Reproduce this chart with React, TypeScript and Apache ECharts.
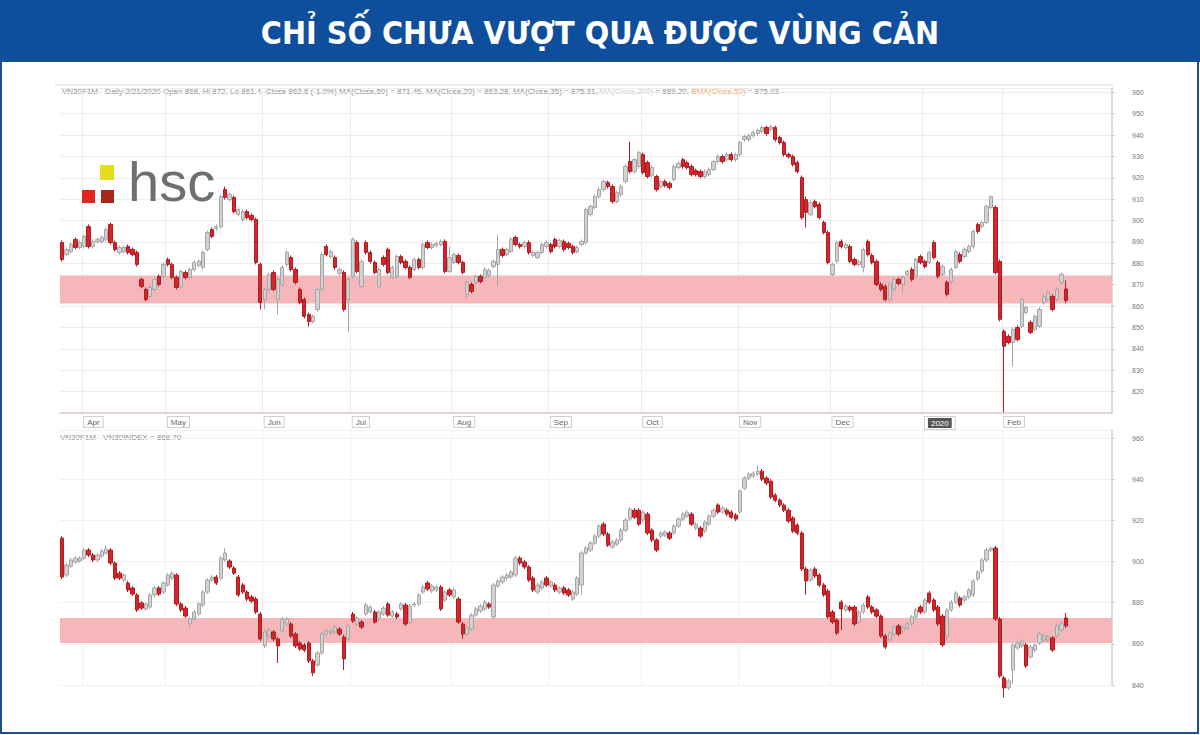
import React, { useEffect, useRef } from "react";
import * as echarts from "echarts";

// ---------- DATA ----------
const titleText = "CHỈ SỐ CHƯA VƯỢT QUA ĐƯỢC VÙNG CẢN";
const monthStarts = [5, 24, 46, 66, 89, 111, 132, 154, 175, 196, 214];
const monthLabels = ["Apr", "May", "Jun", "Jul", "Aug", "Sep", "Oct", "Nov", "Dec", "2020", "Feb"];
const slotCount = 239;

// VN30F1M daily candles: [open, close, low, high]
const futuresOHLC = [
  [889.7,881.8,880.9,890.7],[884.1,886.5,883.2,887.4],[885.5,888.8,884.6,889.7],[891.2,887.4,886.5,892.1],
  [887.4,889.7,886.5,890.7],[887.9,892.6,886.9,893.5],[897.2,887.9,886.9,898.2],[887.9,890.2,886.9,891.2],
  [890.2,891.2,889.3,892.1],[890.2,892.1,889.3,893.0],[891.2,895.8,890.2,896.8],[898.2,889.7,888.8,899.1],
  [889.7,886.5,885.5,890.7],[885.1,887.4,884.1,888.3],[885.5,887.4,884.6,888.3],[887.9,885.1,884.1,888.8],
  [886.5,884.1,883.2,887.4],[885.1,879.5,878.5,886.0],[872.5,869.2,868.3,873.4],[867.8,863.1,862.2,868.7],
  [864.5,868.7,863.6,869.7],[867.8,872.5,866.9,873.4],[873.9,870.1,869.2,874.8],[873.9,879.5,872.9,880.4],
  [881.8,879.5,878.5,882.7],[879.5,873.4,872.5,880.4],[873.4,868.7,867.8,874.3],[869.2,876.2,868.3,877.1],
  [875.7,873.4,872.5,876.7],[873.4,877.1,872.5,878.1],[877.1,880.4,876.2,881.3],[879.0,880.9,878.1,881.8],
  [878.1,885.1,877.1,886.0],[886.5,894.4,885.5,895.3],[895.8,892.6,891.7,896.8],[896.3,897.2,895.3,898.2],
  [897.2,911.2,896.3,912.2],[914.5,910.8,909.8,915.9],[909.8,912.2,908.9,913.1],[910.8,904.2,903.3,911.7],
  [902.8,905.2,901.9,906.1],[900.5,904.2,899.6,905.2],[904.2,901.4,900.5,905.2],[902.4,900.5,899.6,903.3],
  [900.5,880.4,879.5,901.4],[879.5,861.7,858.4,880.4],[863.1,867.8,858.4,868.7],[867.8,874.8,866.9,875.7],
  [875.7,867.8,866.9,876.7],[863.1,872.5,856.1,873.4],[870.1,878.1,869.2,879.0],[879.5,885.1,878.5,886.0],
  [882.7,877.1,876.2,883.7],[877.1,871.1,870.1,878.1],[867.8,861.7,860.8,868.7],[863.1,855.2,854.2,864.0],
  [856.1,852.8,850.5,857.0],[852.8,855.2,851.9,856.1],[858.4,867.8,857.5,868.7],[867.8,884.1,866.9,885.1],
  [887.9,884.1,883.2,888.8],[883.2,885.5,882.3,886.5],[882.7,878.1,877.1,883.7],[875.3,877.1,874.3,878.1],
  [875.7,858.4,857.5,876.7],[863.1,872.5,847.7,873.4],[873.9,891.2,872.9,892.1],[889.7,876.2,875.3,890.7],
  [869.2,880.9,868.3,881.8],[889.7,885.1,884.1,890.7],[885.1,880.9,879.9,886.0],[880.4,875.7,874.8,881.3],
  [869.2,877.1,868.3,878.1],[882.7,879.5,878.5,883.7],[886.5,875.7,874.8,887.4],[873.4,878.1,872.5,879.0],
  [873.9,883.2,872.9,884.1],[883.2,880.4,879.5,884.1],[880.9,878.1,877.1,881.8],[878.1,873.4,872.5,879.0],
  [877.1,881.8,876.2,882.7],[881.8,878.1,877.1,882.7],[878.1,888.8,877.1,889.7],[889.7,887.4,886.5,890.7],
  [887.4,888.8,886.5,889.7],[888.3,889.3,887.4,890.2],[888.8,890.2,887.9,891.2],[890.2,876.2,875.3,891.2],
  [876.2,882.7,875.3,887.9],[880.4,884.1,879.5,885.1],[883.7,880.4,879.5,884.6],[880.4,875.7,874.8,881.3],
  [865.5,871.1,863.6,872.0],[870.1,866.9,866.0,871.1],[871.1,873.9,870.1,874.8],[873.9,871.5,870.6,874.8],
  [873.4,877.1,872.5,878.1],[874.3,876.7,873.4,877.6],[878.5,880.9,877.6,881.8],[879.5,886.5,869.2,893.5],
  [886.5,883.7,882.7,887.4],[884.1,886.5,883.2,887.4],[885.5,891.2,884.6,892.1],[892.1,888.8,887.9,893.0],
  [888.8,887.9,886.9,889.7],[887.9,889.7,886.9,890.7],[889.7,885.1,884.1,890.7],[883.7,885.1,882.7,886.0],
  [882.7,885.1,881.8,886.0],[885.1,888.8,884.1,889.7],[887.9,889.7,886.9,890.7],[888.8,885.5,884.6,889.7],
  [891.2,887.9,886.9,892.1],[887.9,890.7,886.9,891.7],[890.2,886.5,885.5,891.2],[889.3,887.4,886.5,890.2],
  [887.9,885.1,884.1,888.8],[885.5,887.4,884.6,888.3],[888.8,890.2,887.9,891.2],[889.7,905.2,888.8,906.1],
  [902.8,906.6,901.9,907.5],[906.1,911.2,905.2,912.2],[911.2,914.5,910.3,915.5],[914.5,918.3,913.6,919.2],
  [917.8,915.9,915.0,918.7],[915.9,908.9,908.0,916.9],[908.9,913.1,908.0,914.0],[912.2,915.9,911.2,916.9],
  [918.3,925.3,917.3,926.2],[927.6,922.9,922.0,936.9],[922.9,928.5,922.0,929.4],[925.3,931.8,924.3,932.7],
  [930.9,922.5,921.5,931.8],[927.1,920.6,919.7,928.0],[921.1,924.8,920.1,925.7],[920.6,914.5,913.6,921.5],
  [915.9,918.3,915.0,919.2],[918.3,916.4,915.5,919.2],[917.3,915.5,914.5,918.3],[919.2,925.3,918.3,926.2],
  [924.8,926.7,923.9,927.6],[928.5,925.3,924.3,929.4],[927.1,924.8,923.9,928.0],[925.3,921.5,920.6,926.2],
  [923.4,921.5,920.6,924.3],[922.9,920.6,919.7,923.9],[920.6,922.9,919.7,923.9],[921.5,923.9,920.6,924.8],
  [923.9,927.6,923.0,928.5],[927.6,929.9,926.7,930.9],[929.9,927.6,926.7,930.9],[928.5,930.9,927.6,931.8],
  [930.9,928.5,927.6,931.8],[928.5,930.9,927.6,931.8],[930.9,936.5,929.9,937.4],[937.9,939.3,936.9,940.2],
  [937.9,939.7,936.9,940.7],[939.7,941.2,938.8,942.1],[940.7,942.1,939.7,943.0],[941.6,943.5,940.7,944.4],
  [943.5,940.7,939.7,944.4],[942.6,943.9,941.6,944.9],[943.5,937.9,936.9,944.4],[938.8,936.5,935.5,939.7],
  [936.5,930.9,929.9,937.4],[930.9,929.9,929.0,931.8],[929.9,926.2,925.3,930.9],[927.1,922.9,922.0,928.0],
  [920.1,901.4,900.5,921.1],[909.8,903.8,896.8,911.2],[902.8,908.4,901.9,909.4],[908.9,906.6,905.7,909.8],
  [907.5,901.4,900.5,908.4],[899.1,894.4,893.5,900.0],[894.4,880.4,879.5,895.3],[874.8,879.5,873.9,880.4],
  [880.9,889.7,880.0,890.7],[890.2,887.9,886.9,891.2],[887.4,888.8,886.5,889.7],[887.9,880.9,880.0,888.8],
  [881.8,879.5,878.5,882.7],[879.5,880.9,878.5,881.8],[878.1,886.5,875.7,887.4],[890.2,884.1,883.2,891.2],
  [883.7,880.4,879.5,884.6],[880.9,870.1,869.2,881.8],[870.1,867.8,866.9,871.1],[869.2,863.1,862.2,870.1],
  [863.1,870.1,862.2,871.1],[867.8,872.5,866.9,873.4],[872.5,870.6,869.7,873.4],[870.1,873.4,866.4,874.3],
  [874.8,876.2,873.9,877.1],[877.1,872.5,871.5,878.1],[873.9,881.8,872.9,882.7],[883.2,880.4,879.5,884.1],
  [880.9,878.5,877.6,881.8],[880.4,885.1,879.5,886.0],[889.7,882.7,881.8,890.7],[880.4,873.9,872.9,881.3],
  [874.8,878.5,873.9,879.5],[871.1,865.5,864.5,872.0],[871.5,877.1,870.6,878.1],[878.1,885.5,877.1,886.5],
  [884.1,880.9,880.0,885.1],[883.2,886.5,882.3,887.4],[885.5,887.9,884.6,888.8],[887.9,894.9,886.9,895.8],
  [898.2,894.9,893.9,899.1],[897.2,899.1,896.3,900.0],[899.1,906.6,898.2,907.5],[906.1,911.2,905.2,911.7],
  [906.1,875.7,874.8,907.1],[880.9,853.8,852.8,881.8],[848.2,841.2,810.3,849.1],[845.8,843.0,842.1,846.8],
  [843.0,849.1,831.8,850.0],[850.0,844.4,843.5,851.0],[850.5,863.1,849.6,864.0],[857.0,859.4,856.1,860.3],
  [852.4,847.7,846.8,853.3],[849.1,855.2,848.2,856.1],[850.5,858.4,849.6,859.4],[861.7,864.5,860.8,865.5],
  [863.1,866.4,862.2,867.3],[864.5,858.4,857.5,865.5],[863.1,867.8,862.2,868.7],[871.1,874.8,870.1,875.7],
  [868.0,862.6,861.4,872.0]
];

// VN30 index daily candles: [open, close, low, high]
const indexOHLC = [
  [911.4,892.5,891.5,912.4],[893.5,898.3,892.5,899.3],[897.8,900.8,896.9,901.7],[899.8,901.7,898.8,902.7],
  [900.3,901.7,899.3,902.7],[901.7,905.6,900.8,906.6],[905.6,903.2,902.2,906.6],[903.2,900.8,899.8,904.2],
  [900.8,903.2,899.8,904.2],[902.7,905.1,901.7,906.1],[904.2,906.1,903.2,908.0],[905.6,899.3,898.3,906.6],
  [899.3,892.0,891.0,900.3],[894.4,892.0,891.0,895.4],[891.0,893.5,890.1,894.4],[889.6,886.2,885.2,890.6],
  [887.2,884.2,883.3,888.1],[883.8,876.5,875.5,884.7],[879.9,877.4,876.5,880.8],[877.0,879.4,876.0,880.3],
  [877.9,883.8,877.0,884.7],[883.8,887.2,882.8,888.1],[887.2,884.2,883.3,888.1],[885.2,889.6,884.2,890.6],
  [888.6,893.5,887.6,894.4],[892.0,894.4,891.0,895.4],[893.5,879.4,878.4,894.4],[879.4,876.5,875.5,880.3],
  [877.4,873.5,872.6,878.4],[869.7,872.1,867.7,873.1],[872.1,875.5,871.1,876.5],[874.5,879.4,873.5,880.3],
  [878.9,885.2,877.9,886.2],[885.2,891.0,884.2,892.0],[891.0,892.5,890.1,893.5],[892.5,889.6,888.6,893.5],
  [892.0,901.7,891.0,902.7],[900.8,904.2,899.8,906.6],[900.3,897.4,896.4,901.2],[896.9,894.4,893.5,897.8],
  [892.5,883.8,882.8,893.5],[888.6,885.2,884.2,889.6],[885.2,881.8,880.8,886.2],[882.8,880.8,879.9,883.8],
  [881.8,875.5,874.5,882.8],[874.5,862.4,861.4,875.5],[859.0,865.8,858.0,866.8],[863.8,866.8,862.9,867.7],
  [865.8,862.4,861.4,866.8],[862.4,859.0,850.7,863.3],[866.3,872.1,865.3,873.1],[869.7,872.1,868.7,873.1],
  [869.7,863.8,862.9,870.6],[864.8,859.0,858.0,865.8],[860.4,857.5,856.5,861.4],[859.5,857.0,856.0,860.4],
  [860.4,851.7,850.7,861.4],[851.7,845.9,844.4,852.7],[849.7,855.6,848.8,856.5],[855.6,864.8,854.6,865.8],
  [864.8,866.3,863.8,867.2],[865.3,866.3,864.3,867.2],[865.8,868.2,864.8,869.2],[867.2,864.8,863.8,868.2],
  [863.3,852.7,847.3,864.3],[862.4,868.7,861.4,869.7],[874.5,871.1,870.2,875.5],[869.7,872.6,868.7,873.5],
  [870.6,868.2,867.2,871.6],[874.5,878.9,873.5,879.9],[875.5,877.9,874.5,878.9],[875.5,870.6,869.7,876.5],
  [872.1,875.5,871.1,876.5],[874.5,877.4,873.5,878.4],[879.4,874.0,873.1,880.3],[873.5,875.5,872.6,876.5],
  [874.5,873.1,872.1,875.5],[877.0,879.4,876.0,880.3],[878.9,869.7,868.7,879.9],[870.6,878.4,869.7,879.4],
  [878.9,879.4,877.9,880.3],[879.4,883.8,878.4,884.7],[885.2,887.6,884.2,888.6],[889.6,886.7,885.7,890.6],
  [885.7,888.1,884.7,889.1],[886.2,887.6,885.2,888.6],[887.6,877.0,876.0,888.6],[881.3,885.2,880.3,886.2],
  [886.2,883.8,882.8,887.2],[882.8,886.2,881.8,887.2],[881.8,870.6,869.7,882.8],[869.7,864.8,862.4,870.6],
  [864.8,867.7,863.8,868.7],[867.2,874.0,866.3,875.0],[874.0,877.0,873.1,877.9],[876.0,878.4,875.0,879.4],
  [877.0,880.3,876.0,881.3],[879.4,877.9,877.0,880.3],[873.1,888.6,872.1,889.6],[888.1,890.6,887.2,891.5],
  [890.1,892.5,889.1,893.5],[892.0,893.5,891.0,894.4],[892.5,894.9,891.5,895.9],[893.5,901.7,892.5,902.7],
  [901.7,899.3,898.3,902.7],[899.8,897.4,896.4,900.8],[897.4,891.0,890.1,898.3],[892.0,886.2,885.2,893.0],
  [885.2,888.6,884.2,889.6],[887.2,890.1,886.2,891.0],[892.0,888.6,887.6,893.0],[888.1,890.1,887.2,891.0],
  [888.6,886.2,885.2,889.6],[885.2,887.2,884.2,888.1],[887.2,884.7,883.8,888.1],[886.2,883.8,882.8,887.2],
  [881.8,885.2,880.8,886.2],[884.2,892.0,883.3,893.0],[888.6,904.2,883.8,905.1],[904.2,906.6,903.2,907.6],
  [905.6,909.0,904.7,910.0],[909.0,912.4,908.0,913.4],[912.4,917.3,911.4,918.2],[918.2,913.4,912.4,919.2],
  [913.4,908.0,907.1,914.4],[907.1,909.5,906.1,910.5],[908.5,910.5,907.6,911.4],[910.5,915.3,909.5,916.3],
  [915.3,920.2,914.4,921.2],[920.7,925.5,919.7,926.5],[925.0,921.6,920.7,926.0],[925.0,918.2,917.3,926.0],
  [920.2,924.1,919.2,925.0],[923.1,913.9,912.9,924.1],[915.3,910.5,909.5,916.3],[910.5,905.6,904.7,911.4],
  [912.4,913.9,911.4,914.8],[912.9,914.4,911.9,915.3],[913.9,911.4,910.5,914.8],[913.9,917.3,912.9,918.2],
  [917.3,920.7,916.3,921.6],[920.7,923.1,919.7,924.1],[922.1,924.1,921.2,925.0],[923.1,918.2,917.3,924.1],
  [916.3,918.2,915.3,919.2],[916.3,912.4,911.4,917.3],[914.8,919.2,913.9,920.2],[918.2,922.1,917.3,923.1],
  [922.1,925.0,921.2,926.0],[927.5,924.1,923.1,928.4],[924.1,926.0,923.1,927.0],[925.0,923.1,922.1,926.0],
  [924.1,921.6,920.7,925.0],[922.6,920.7,919.7,923.6],[924.1,934.3,923.1,935.2],[935.7,940.6,934.8,941.6],
  [940.6,942.5,939.6,943.5],[941.6,943.0,940.6,944.0],[942.5,944.0,941.6,946.9],[944.0,940.1,939.2,945.0],
  [940.6,938.2,937.2,941.6],[939.1,931.4,930.4,940.1],[932.3,929.9,928.9,933.3],[929.9,927.5,926.5,930.9],
  [927.5,925.0,924.1,928.4],[925.0,919.7,918.7,926.0],[921.2,914.8,913.9,922.1],[917.8,913.9,912.9,918.7],
  [913.9,896.4,895.4,914.8],[896.4,890.6,883.8,897.4],[891.0,895.9,890.1,896.9],[896.4,893.0,892.0,897.4],
  [893.5,888.6,887.6,894.4],[888.6,883.8,882.8,889.6],[885.7,873.1,872.1,886.7],[875.5,870.6,869.7,876.5],
  [871.6,865.3,864.3,872.6],[880.3,877.0,866.8,881.3],[876.5,878.4,875.5,879.4],[877.9,876.5,875.5,878.9],
  [877.9,869.7,868.7,878.9],[870.6,875.5,869.7,876.5],[875.5,878.9,874.5,879.9],[882.8,877.9,877.0,883.8],
  [877.9,875.5,874.5,878.9],[876.5,873.5,872.6,877.4],[873.5,863.8,862.9,874.5],[863.8,858.5,857.5,864.8],
  [861.9,865.3,860.9,866.3],[864.8,868.2,863.8,869.2],[868.7,864.8,863.8,869.7],[866.3,867.7,865.3,868.7],
  [867.7,869.7,866.8,870.6],[869.7,873.1,868.7,874.0],[873.1,876.5,872.1,877.4],[877.9,875.5,874.5,878.9],
  [875.5,881.3,874.5,882.3],[884.7,880.3,879.4,885.7],[881.3,876.5,875.5,882.3],[877.9,869.7,868.7,878.9],
  [873.5,859.5,858.5,874.5],[863.8,876.5,861.9,877.4],[876.5,880.3,875.5,881.3],[880.3,884.7,879.4,885.7],
  [882.3,878.9,877.9,883.3],[881.3,882.8,880.3,883.8],[882.8,886.2,881.8,887.2],[883.8,890.6,882.8,891.5],
  [891.5,894.9,890.6,895.9],[895.4,900.8,894.4,901.7],[900.8,905.6,899.8,906.6],[905.6,906.6,904.7,907.1],
  [906.6,872.1,871.1,907.6],[872.1,844.4,843.4,873.1],[843.4,838.6,834.0,844.4],[838.6,842.0,837.6,843.0],
  [847.3,859.5,840.5,860.4],[858.0,860.4,857.0,861.4],[859.0,861.4,858.0,862.4],[859.5,849.3,848.3,860.4],
  [853.6,858.5,852.7,859.5],[857.0,859.5,856.0,860.4],[860.4,864.8,859.5,865.8],[861.9,863.8,860.9,864.8],
  [861.9,863.3,860.9,864.3],[862.9,857.0,856.0,863.8],[863.8,868.7,862.9,869.7],[866.8,869.7,865.8,870.6],
  [872.6,868.7,867.7,875.0]
];

// resistance zone [low, high]
const futuresBand = [861.2, 874.3];
const indexBand = [860.4, 872.6];

const legendParts = [
  { s: "a", t: "VN30F1M - Daily 2/21/2020 Open 868, Hi 872, Lo 861.4, Close 862.6 (-1.0%) MA(Close,50) = 871.46, MA(Close,20) = 863.28, MA(Close,35) = 875.31, " },
  { s: "b", t: "MA(Close,200)" },
  { s: "a", t: " = 889.20, " },
  { s: "c", t: "EMA(Close,50)" },
  { s: "a", t: " = 875.03" },
];

export default function App() {
  const ref = useRef<HTMLDivElement>(null);

  useEffect(() => {
    if (!ref.current) return;
    const chart = echarts.init(ref.current, undefined, { renderer: "svg" });
    const categories = Array.from({ length: slotCount }, (_, i) => String(i));
    const isMonthStart = (i: number) => monthStarts.indexOf(i) >= 0;
    const lastFut = futuresOHLC[futuresOHLC.length - 1][1];
    const lastIdx = indexOHLC[indexOHLC.length - 1][1];

    const upStyle = {
      color: "#d2d2d2",
      color0: "#d3262c",
      borderColor: "#a6a6a6",
      borderColor0: "#b01e22",
      borderWidth: 1,
    };

    const priceTag = (v: number) => ({
      silent: true,
      symbol: ["none", "none"],
      lineStyle: { opacity: 0 },
      label: {
        show: true,
        position: "end",
        distance: 1,
        formatter: () => v.toFixed(1),
        backgroundColor: "#111",
        color: "#fff",
        fontSize: 8,
        padding: [2, 5],
        fontFamily: "Liberation Sans",
      },
      data: [{ yAxis: v }],
    });

    const option: any = {
      animation: false,
      backgroundColor: "#ffffff",
      textStyle: { fontFamily: "Liberation Sans" },
      graphic: [
        { type: "rect", shape: { x: 0, y: 0, width: 1200, height: 62 }, style: { fill: "#0e4f9d" } },
        {
          type: "text", x: 600, y: 33,
          style: {
            text: titleText, fill: "#ffffff", fontSize: 32, fontWeight: "bold",
            fontFamily: "'DejaVu Sans Condensed', 'Liberation Sans Narrow', sans-serif",
            align: "center", verticalAlign: "middle",
          },
        },
        { type: "rect", shape: { x: 1, y: 61, width: 1197, height: 672 }, style: { fill: "none", stroke: "#1f4f8f", lineWidth: 2 } },
        { type: "line", shape: { x1: 55, y1: 85, x2: 1113, y2: 85 }, style: { stroke: "#d6d6d6", lineWidth: 1 } },
        {
          type: "text", x: 62, y: 91,
          style: {
            text: legendParts.map((p) => `{${p.s}|${p.t}}`).join(""),
            verticalAlign: "middle",
            rich: {
              a: { fontSize: 8, fill: "#8a8a8a", fontFamily: "Liberation Sans" },
              b: { fontSize: 8, fill: "#cfcfcf", fontFamily: "Liberation Sans" },
              c: { fontSize: 8, fill: "#f0a24a", fontFamily: "Liberation Sans" },
            },
          },
        },
        {
          type: "text", x: 60, y: 437,
          style: { text: `VN30F1M - VN30INDEX = ${lastIdx.toFixed(2)}`, fontSize: 8, fill: "#8a8a8a", fontFamily: "Liberation Sans", verticalAlign: "middle" },
        },
        // hsc logo
        { type: "rect", z: 100, shape: { x: 100, y: 165, width: 14, height: 15 }, style: { fill: "#e6dc1e" } },
        { type: "rect", z: 100, shape: { x: 82, y: 190, width: 13, height: 13 }, style: { fill: "#e2231f" } },
        { type: "rect", z: 100, shape: { x: 101, y: 190, width: 13, height: 13 }, style: { fill: "#a8261a" } },
        {
          type: "text", z: 100, x: 128, y: 209,
          style: { text: "hsc", fontSize: 56, fill: "#6f6f6f", fontFamily: "'Liberation Sans'", verticalAlign: "bottom" },
        },
      ],
      grid: [
        { left: 60, width: 1052, top: 88, height: 325 },
        { left: 60, width: 1052, top: 430, height: 255 },
      ],
      xAxis: [
        {
          type: "category", gridIndex: 0, data: categories, boundaryGap: true,
          axisLine: { show: true, lineStyle: { color: "#e2d4d4", width: 2 } },
          axisTick: { show: false },
          axisLabel: {
            interval: (i: number) => isMonthStart(i),
            formatter: (_v: string, i: number) => {
              const k = monthStarts.indexOf(i);
              if (k < 0) return "";
              const lab = monthLabels[k];
              return lab === "2020" ? `{hi|${lab}}` : lab;
            },
            align: "left",
            fontSize: 8, color: "#666",
            backgroundColor: "#fff", borderColor: "#cfcfcf", borderWidth: 1, padding: [1, 3],
            margin: 4,
            rich: { hi: { backgroundColor: "#555", color: "#fff", fontSize: 8, padding: [1, 3] } },
          },
          splitLine: { show: true, interval: (i: number) => isMonthStart(i), lineStyle: { color: "#ededed" } },
        },
        {
          type: "category", gridIndex: 1, data: categories, boundaryGap: true,
          axisLine: { show: false }, axisTick: { show: false }, axisLabel: { show: false },
          splitLine: { show: true, interval: (i: number) => isMonthStart(i), lineStyle: { color: "#f1f1f1" } },
        },
      ],
      yAxis: [
        {
          type: "value", gridIndex: 0, position: "right", min: 810, max: 962, interval: 10,
          axisLine: { show: true, lineStyle: { color: "#dcdcdc", width: 2 } },
          axisTick: { show: true, length: 3, lineStyle: { color: "#cfcfcf" } },
          axisLabel: { showMinLabel: false, showMaxLabel: false, fontSize: 7, color: "#777", margin: 20 },
          splitLine: { show: true, lineStyle: { color: "#ececec" } },
        },
        {
          type: "value", gridIndex: 1, position: "right", min: 840, max: 964, interval: 20,
          axisLine: { show: true, lineStyle: { color: "#dcdcdc", width: 2 } },
          axisTick: { show: true, length: 3, lineStyle: { color: "#cfcfcf" } },
          axisLabel: { showMinLabel: true, showMaxLabel: false, fontSize: 7, color: "#777", margin: 20 },
          splitLine: { show: true, lineStyle: { color: "#f1f1f1" } },
        },
      ],
      series: [
        {
          type: "candlestick", xAxisIndex: 0, yAxisIndex: 0, data: futuresOHLC,
          barWidth: 3.8, itemStyle: upStyle,
          markArea: { silent: true, itemStyle: { color: "#f6b7bb" }, data: [[{ yAxis: futuresBand[1] }, { yAxis: futuresBand[0] }]] },
          markLine: priceTag(lastFut),
        },
        {
          type: "candlestick", xAxisIndex: 1, yAxisIndex: 1, data: indexOHLC, clip: false,
          barWidth: 3.8, itemStyle: upStyle,
          markArea: { silent: true, itemStyle: { color: "#f6b7bb" }, data: [[{ yAxis: indexBand[1] }, { yAxis: indexBand[0] }]] },
          markLine: priceTag(lastIdx),
        },
      ],
    };

    chart.setOption(option);
    return () => chart.dispose();
  }, []);

  return (
    <div
      ref={ref}
      style={{ position: "fixed", left: 0, top: 0, width: 1200, height: 735, background: "#fff" }}
    />
  );
}
